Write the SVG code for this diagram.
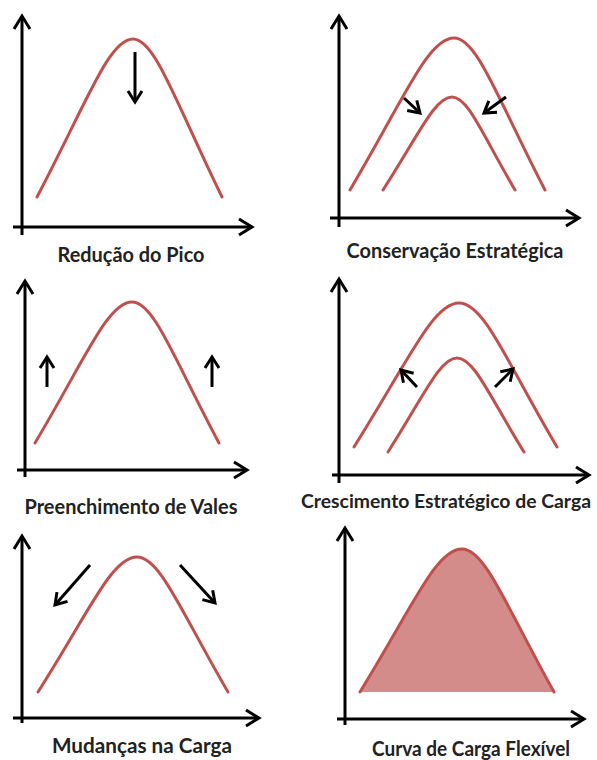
<svg xmlns="http://www.w3.org/2000/svg" width="597" height="760" viewBox="0 0 597 760">
  <style>
    .axis { stroke: #000; stroke-width: 3; fill: none; marker-end: url(#axisHead); }
    .curve { stroke: #c0504d; stroke-width: 3; fill: none; stroke-linecap: round; }
    .area { fill: #d48c8b; stroke: none; }
    .arr { stroke: #000; stroke-width: 3; fill: none; marker-end: url(#smallHead); }
    .label { font-family: Lato, "Liberation Sans", sans-serif; font-size: 20px; font-weight: bold; fill: #222; text-anchor: middle; }
  </style>
  <defs>
    <marker id="axisHead" markerUnits="userSpaceOnUse" orient="auto" overflow="visible" refX="0" refY="0" markerWidth="20" markerHeight="20">
      <path d="M-13,-8 L0,0 L-13,8" stroke="#000" stroke-width="3" fill="none"/>
    </marker>
    <marker id="smallHead" markerUnits="userSpaceOnUse" orient="auto" overflow="visible" refX="0" refY="0" markerWidth="20" markerHeight="20">
      <path d="M-11,-7 L0,0 L-11,7" stroke="#000" stroke-width="3" fill="none"/>
    </marker>
  </defs>
  <rect width="597" height="760" fill="#fff"/>

  <g id="reducao-do-pico">
    <line class="axis" x1="22" y1="235" x2="22" y2="16"/>
    <line class="axis" x1="13" y1="227" x2="252" y2="227"/>
    <path class="curve" d="M37,197 C86.9,102.2 109,39 133,39 C155,39 175.7,102.2 222,197"/>
    <line class="arr" x1="135" y1="52" x2="135" y2="102"/>
    <text class="label" x="131" y="262" textLength="147" lengthAdjust="spacingAndGlyphs">Redução do Pico</text>
  </g>

  <g id="conservacao-estrategica">
    <line class="axis" x1="339" y1="227" x2="339" y2="16"/>
    <line class="axis" x1="330" y1="218" x2="579" y2="218"/>
    <path class="curve" d="M350,190 C404.1,98.8 428,38 454,38 C477,38 497.7,98.8 545,190"/>
    <path class="curve" d="M383,190 C418.9,134.2 435,97 452,97 C468,97 482.2,134.2 515,190"/>
    <line class="arr" x1="404" y1="98" x2="420" y2="113"/>
    <line class="arr" x1="506" y1="97" x2="484" y2="113"/>
    <text class="label" x="455" y="258" textLength="217" lengthAdjust="spacingAndGlyphs">Conservação Estratégica</text>
  </g>

  <g id="preenchimento-de-vales">
    <line class="axis" x1="25" y1="477" x2="25" y2="281"/>
    <line class="axis" x1="17" y1="470" x2="247" y2="470"/>
    <path class="curve" d="M35,443 C85.4,358.4 108,302 132,302 C154,302 173.8,358.4 219,443"/>
    <line class="arr" x1="47" y1="387" x2="47" y2="357"/>
    <line class="arr" x1="212" y1="387" x2="212" y2="357"/>
    <text class="label" x="131" y="514" textLength="213" lengthAdjust="spacingAndGlyphs">Preenchimento de Vales</text>
  </g>

  <g id="crescimento-estrategico">
    <line class="axis" x1="339" y1="483" x2="339" y2="279"/>
    <line class="axis" x1="332" y1="475" x2="589" y2="475"/>
    <path class="curve" d="M354,447 C408.6,360.6 433,303 459,303 C484,303 506,360.6 557,447"/>
    <path class="curve" d="M388,452 C423.9,395.6 440,358 457,358 C474,358 489.2,395.6 524,452"/>
    <line class="arr" x1="417" y1="387" x2="401" y2="370"/>
    <line class="arr" x1="495" y1="387" x2="513" y2="369"/>
    <text class="label" x="446" y="508" style="font-size:18.5px" textLength="290" lengthAdjust="spacingAndGlyphs">Crescimento Estratégico de Carga</text>
  </g>

  <g id="mudancas-na-carga">
    <line class="axis" x1="22" y1="723" x2="22" y2="536"/>
    <line class="axis" x1="13" y1="718" x2="259" y2="718"/>
    <path class="curve" d="M38,692 C89.5,611 112,557 137,557 C160,557 180.7,611 228,692"/>
    <line class="arr" x1="90" y1="565" x2="55" y2="605"/>
    <line class="arr" x1="180" y1="565" x2="215" y2="603"/>
    <text class="label" x="142" y="753" textLength="180" lengthAdjust="spacingAndGlyphs">Mudanças na Carga</text>
  </g>

  <g id="curva-de-carga-flexivel">
    <line class="axis" x1="345" y1="725" x2="345" y2="528"/>
    <line class="axis" x1="337" y1="719" x2="584" y2="719"/>
    <path class="area" d="M360,692 C413,606.2 436,549 462,549 C485,549 506.2,606.2 554,692 Z"/>
    <path class="curve" d="M360,692 C413,606.2 436,549 462,549 C485,549 506.2,606.2 554,692" stroke-width="2.5"/>
    <text class="label" x="471" y="756" textLength="198" lengthAdjust="spacingAndGlyphs">Curva de Carga Flexível</text>
  </g>
</svg>
